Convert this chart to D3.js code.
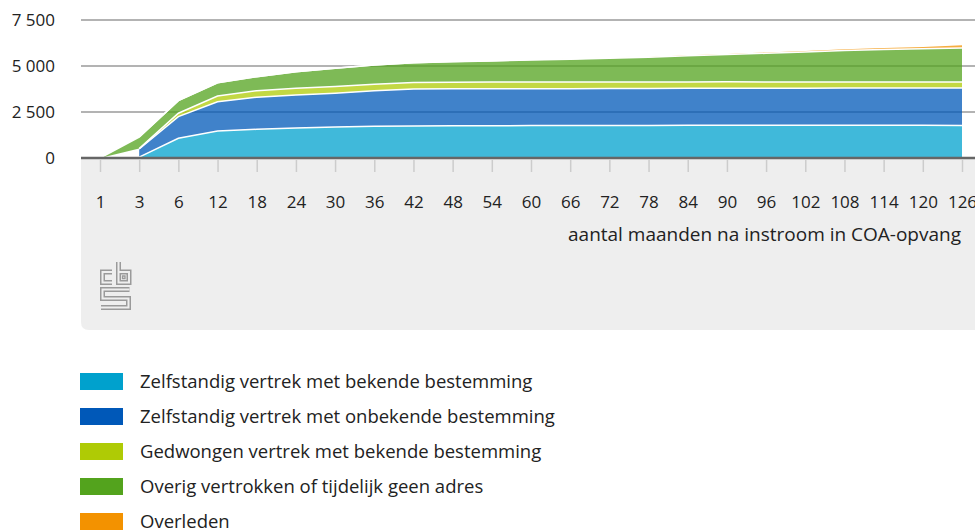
<!DOCTYPE html>
<html>
<head>
<meta charset="utf-8">
<script src="https://cdn.jsdelivr.net/npm/d3@7"></script>
<style>
  body { margin: 0; background: #fff; }
  svg text { font-family: "Open Sans", sans-serif; fill: #222; }
</style>
</head>
<body>
<div id="chart"></div>
<script>
const width = 975,
  height = 530;

// categories (maanden na instroom)
const months = ["1", "3", "6", "12", "18", "24", "30", "36", "42", "48", "54", "60",
  "66", "72", "78", "84", "90", "96", "102", "108", "114", "120", "126"];

// series values
const zelfBekend = [null, 50, 1070, 1470, 1560, 1630, 1680, 1720, 1740, 1750, 1755, 1760,
  1765, 1770, 1770, 1775, 1775, 1780, 1780, 1780, 1780, 1780, 1770];
const zelfOnbekend = [null, 440, 1180, 1590, 1740, 1790, 1840, 1930, 2010, 2010, 2010, 2010,
  2005, 2005, 2010, 2010, 2015, 2010, 2015, 2020, 2020, 2020, 2030];
const gedwongen = [null, 20, 185, 310, 360, 370, 370, 360, 360, 360, 360, 360,
  360, 360, 355, 350, 350, 345, 340, 335, 335, 330, 330];
const overig = [0, 630, 680, 720, 760, 900, 990, 1040, 1070, 1110, 1145, 1200,
  1240, 1285, 1345, 1425, 1480, 1555, 1625, 1705, 1765, 1810, 1850];
const overleden = [null, 0, 0, 0, 0, 0, 0, 0, 0, 10, 15, 20,
  30, 40, 50, 60, 75, 90, 100, 115, 125, 140, 190];

const seriesNames = [
  "Zelfstandig vertrek met bekende bestemming",
  "Zelfstandig vertrek met onbekende bestemming",
  "Gedwongen vertrek met bekende bestemming",
  "Overig vertrokken of tijdelijk geen adres",
  "Overleden",
];
const seriesValues = [zelfBekend, zelfOnbekend, gedwongen, overig, overleden];
const colors = ["#00a1cd", "#0058b8", "#afcb05", "#53a31d", "#f39200"];

const yTicks = [0, 2500, 5000, 7500];
const xTitle = "aantal maanden na instroom in COA-opvang";

// table for d3.stack
const table = months.map((m, i) => {
  const row = { month: m };
  seriesNames.forEach((s, j) => (row[s] = seriesValues[j][i]));
  return row;
});

const x = d3.scalePoint().domain(months).range([100, 962]);
const y = d3.scaleLinear().domain([0, 7500]).range([158, 20]);

const fmt = d3.formatLocale({ decimal: ",", thousands: " ", grouping: [3], currency: ["", ""] }).format(",");

const svg = d3
  .select("#chart")
  .append("svg")
  .attr("width", width)
  .attr("height", height);

// grey panel under the axis
svg
  .append("path")
  .attr("d", "M81,158 H975 V330 H89 Q81,330 81,322 Z")
  .attr("fill", "#eeeeee");

// gridlines
svg
  .append("g")
  .selectAll("line")
  .data(yTicks.filter((d) => d > 0))
  .join("line")
  .attr("x1", 81)
  .attr("x2", 975)
  .attr("y1", (d) => y(d))
  .attr("y2", (d) => y(d))
  .attr("stroke", "#9a9a9a")
  .attr("stroke-width", 1.5);

// y labels
svg
  .append("g")
  .attr("transform", "translate(55,0)")
  .call(d3.axisLeft(y).tickValues(yTicks).tickSize(0).tickPadding(0).tickFormat(fmt))
  .call((g) => g.select(".domain").remove())
  .selectAll("text")
  .attr("font-size", 17)
  .attr("font-family", "Open Sans, sans-serif")
  .attr("fill", "#222");

// stacked areas
const stack = d3
  .stack()
  .keys(seriesNames)
  .value((d, key) => (d[key] == null ? 0 : d[key]));
const layers = stack(table);
layers.forEach((layer) => layer.forEach((d) => (d.key = layer.key)));

const area = d3
  .area()
  .defined((d) => d.data[d.key] != null)
  .x((d) => x(d.data.month))
  .y0((d) => y(d[0]))
  .y1((d) => y(d[1]));

const topLine = d3
  .line()
  .defined((d) => d.data[d.key] != null)
  .x((d) => x(d.data.month))
  .y((d) => y(d[1]));

svg
  .append("g")
  .selectAll("path")
  .data(layers)
  .join("path")
  .attr("d", area)
  .attr("fill", (d, i) => colors[i])
  .attr("fill-opacity", 0.75);

svg
  .append("g")
  .selectAll("path")
  .data(layers)
  .join("path")
  .attr("d", topLine)
  .attr("fill", "none")
  .attr("stroke", "#fff")
  .attr("stroke-width", 1.5);

// x axis
const xAxis = svg
  .append("g")
  .attr("transform", "translate(0,158)")
  .call(d3.axisBottom(x).tickSize(14).tickPadding(24))
  .call((g) => g.select(".domain").remove());
xAxis.selectAll(".tick line").attr("stroke", "#cccccc").attr("stroke-width", 1.5).attr("y1", 2);
xAxis
  .selectAll("text")
  .attr("font-size", 17)
  .attr("font-family", "Open Sans, sans-serif")
  .attr("fill", "#222");

svg
  .append("line")
  .attr("x1", 81)
  .attr("x2", 975)
  .attr("y1", 158)
  .attr("y2", 158)
  .attr("stroke", "#666")
  .attr("stroke-width", 2.5);

svg
  .append("text")
  .attr("x", 961)
  .attr("y", 241)
  .attr("text-anchor", "end")
  .attr("font-size", 19)
  .text(xTitle);

// cbs logo
const logo = svg.append("g").attr("transform", "translate(100,262)");
const logoPaths = [
  "M12,10 H2.5 V20.5 H12",
  "M18.5,0 V20.5 H29 V10 H18.5",
  "M22.5,14 H25 V16.5 H22.5 Z",
  "M29.5,27.5 H2.5 V36.5 H28.5 V45.5 H1",
];
logo
  .selectAll("path.outer")
  .data(logoPaths)
  .join("path")
  .attr("d", (d) => d)
  .attr("fill", "none")
  .attr("stroke", "#9a9a9a")
  .attr("stroke-width", (d, i) => (i === 2 ? 1.3 : 5));
logo
  .selectAll("path.inner")
  .data(logoPaths.filter((d, i) => i !== 2))
  .join("path")
  .attr("d", (d) => d)
  .attr("fill", "none")
  .attr("stroke", "#eeeeee")
  .attr("stroke-width", 2);

// legend
const legend = svg
  .append("g")
  .selectAll("g")
  .data(seriesNames)
  .join("g")
  .attr("transform", (d, i) => "translate(80," + (373 + i * 35) + ")");
legend
  .append("rect")
  .attr("width", 43)
  .attr("height", 17)
  .attr("fill", (d, i) => colors[i]);
legend
  .append("text")
  .attr("x", 60)
  .attr("y", 9)
  .attr("dy", "0.35em")
  .attr("font-size", 18.5)
  .text((d) => d);
</script>
</body>
</html>
